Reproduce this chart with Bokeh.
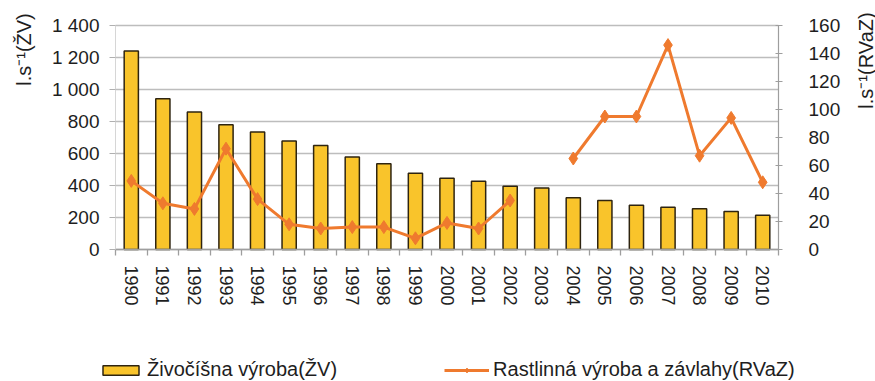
import math
from bokeh.plotting import figure
from bokeh.models import Range1d, LinearAxis, FixedTicker, Legend, LegendItem, Label
from bokeh.embed import file_html
from bokeh.resources import INLINE

years = [1990, 1991, 1992, 1993, 1994, 1995, 1996, 1997, 1998, 1999, 2000,
         2001, 2002, 2003, 2004, 2005, 2006, 2007, 2008, 2009, 2010]
zv = [1240, 942, 860, 779, 735, 678, 650, 578, 536, 477, 446,
      426, 396, 385, 323, 306, 277, 264, 254, 237, 214]
rvaz = [49, 33, 29, 72, 36, 18, 15, 16, 16, 8, 19,
        15, 35, float("nan"), 65, 95, 95, 146, 67, 94, 48]

left_ticks = [0, 200, 400, 600, 800, 1000, 1200, 1400]
left_tick_labels = ["0", "200", "400", "600", "800", "1 000", "1 200", "1 400"]
right_ticks = [0, 20, 40, 60, 80, 100, 120, 140, 160]

zv_name = "Živočíšna výroba(ŽV)"
rvaz_name = "Rastlinná výroba a závlahy(RVaZ)"
left_title = "l.s⁻¹(ŽV)"
right_title = "l.s⁻¹(RVaZ)"

FONT = "Liberation Sans"
TXT = "#1e1e1e"
BAR = "#F9C42B"
BAR_EDGE = "#2e2410"
LINE = "#EF7A2E"

# layout in pixels: canvas size and the plot area inside it
W, H = 875, 381
PLOT_L, PLOT_R, PLOT_T, PLOT_B = 115, 778, 25, 249


def padded(lo, hi, a, b, size):
    per_px = (hi - lo) / (b - a)
    return Range1d(lo - a * per_px, hi + (size - b) * per_px)


x_lo, x_hi = years[0] - 0.5, years[-1] + 0.5
xr = padded(x_lo, x_hi, PLOT_L, PLOT_R, W)
yl_pad = padded(left_ticks[0], left_ticks[-1], H - PLOT_B, H - PLOT_T, H)
yr_pad = padded(right_ticks[0], right_ticks[-1], H - PLOT_B, H - PLOT_T, H)

p = figure(width=W, height=H, output_backend="svg", toolbar_location=None,
           x_range=xr, y_range=yl_pad,
           min_border_left=0, min_border_right=0, min_border_top=0,
           min_border_bottom=0)
p.outline_line_color = None
p.background_fill_color = "white"
p.border_fill_color = "white"
p.xgrid.grid_line_color = None
p.ygrid.grid_line_color = "#bdbdbd"
p.ygrid.grid_line_width = 1.3
try:
    p.ygrid.cross_bounds = (x_lo, x_hi)
except Exception:
    pass

# bottom axis (drawn at value 0)
xa = p.xaxis[0]
xa.fixed_location = 0
xa.bounds = (x_lo, x_hi)
xa.ticker = FixedTicker(ticks=years, minor_ticks=[y - 0.5 for y in years] + [x_hi])
xa.major_label_orientation = "vertical"
xa.major_tick_out = 0
xa.major_tick_in = 0
xa.minor_tick_out = 6
xa.minor_tick_in = 0
xa.minor_tick_line_color = "#9e9e9e"
xa.minor_tick_line_width = 1.3
xa.axis_line_color = "#9e9e9e"
xa.axis_line_width = 1.3
xa.major_label_standoff = 10
xa.major_label_text_font = FONT
xa.major_label_text_font_size = "18px"
xa.major_label_text_color = TXT

# left axis
ya = p.yaxis[0]
ya.fixed_location = x_lo
ya.bounds = (left_ticks[0], left_ticks[-1])
ya.ticker = FixedTicker(ticks=left_ticks)
ya.major_label_overrides = {t: s for t, s in zip(left_ticks, left_tick_labels)}
ya.minor_tick_line_color = None
ya.major_tick_out = 6
ya.major_tick_in = 0
ya.major_tick_line_color = "#b0b0b0"
ya.axis_line_color = "#d6d6d6"
ya.major_label_standoff = 10
ya.major_label_text_font = FONT
ya.major_label_text_font_size = "19px"
ya.major_label_text_color = TXT

# right axis
p.extra_y_ranges = {"r": yr_pad}
ra = LinearAxis(y_range_name="r", ticker=FixedTicker(ticks=right_ticks))
ra.fixed_location = x_hi
ra.bounds = (right_ticks[0], right_ticks[-1])
ra.minor_tick_line_color = None
ra.major_tick_out = 4
ra.major_tick_in = 3
ra.major_tick_line_color = "#9e9e9e"
ra.axis_line_color = "#9e9e9e"
ra.axis_line_width = 1.2
ra.major_label_standoff = 26
ra.major_label_text_font = FONT
ra.major_label_text_font_size = "19px"
ra.major_label_text_color = TXT
p.add_layout(ra, "right")

bars = p.vbar(x=years, top=zv, width=0.45, fill_color=BAR,
              line_color=BAR_EDGE, line_width=1.5)
ln = p.line(x=years, y=rvaz, y_range_name="r", line_color=LINE, line_width=3)
pts = p.scatter(x=years, y=rvaz, y_range_name="r", marker="diamond", size=13,
                fill_color=LINE, line_color=LINE)

legend = Legend(items=[LegendItem(label=zv_name, renderers=[bars]),
                       LegendItem(label=rvaz_name, renderers=[ln, pts])],
                location=(98, 0), orientation="horizontal",
                glyph_width=45, glyph_height=12, spacing=107, label_standoff=4,
                padding=0, margin=0, border_line_color=None,
                background_fill_alpha=0,
                label_text_font=FONT, label_text_font_size="20px",
                label_text_color=TXT)
p.add_layout(legend)

# axis titles (screen units: from the left / bottom of the canvas)
p.add_layout(Label(x=23, y=H - 49, x_units="screen", y_units="screen",
                   text=left_title, angle=math.pi / 2, text_align="center",
                   text_baseline="middle", text_font=FONT,
                   text_font_size="20px", text_color=TXT))
p.add_layout(Label(x=865, y=H - 60, x_units="screen", y_units="screen",
                   text=right_title, angle=math.pi / 2, text_align="center",
                   text_baseline="middle", text_font=FONT,
                   text_font_size="20px", text_color=TXT))

open("out.html", "w").write(file_html(p, INLINE))
